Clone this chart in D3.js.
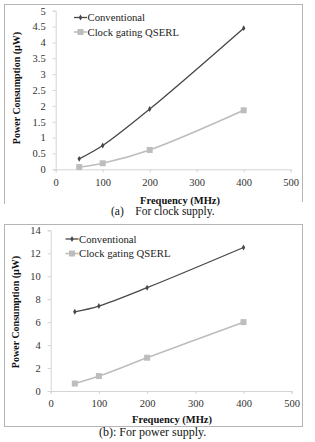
<!DOCTYPE html>
<html><head><meta charset="utf-8">
<script src="https://cdn.jsdelivr.net/npm/d3@7"></script>
<style>
body{margin:0;background:#fff}
svg{display:block}
svg text{font-family:"Liberation Serif","Times New Roman",Times,serif}
</style>
</head><body>
<script>
const freqs = [50, 100, 200, 400];
const clockConventional = [0.33, 0.75, 1.9, 4.45];
const clockQSERL = [0.07, 0.19, 0.61, 1.86];
const powerConventional = [6.9, 7.4, 9.0, 12.5];
const powerQSERL = [0.65, 1.3, 2.9, 6.0];
const xTicks = [0, 100, 200, 300, 400, 500];
const clockYTicks = [0, 0.5, 1, 1.5, 2, 2.5, 3, 3.5, 4, 4.5, 5];
const powerYTicks = [0, 2, 4, 6, 8, 10, 12, 14];
const seriesNames = ["Conventional", "Clock gating QSERL"];
const captions = ["(a)\u00a0\u00a0\u00a0\u00a0For clock supply.", "(b): For power supply."];

const W = 315, H = 442;
const svg = d3.select("body").append("svg").attr("width", W).attr("height", H);
const darkC = "#474747", lightC = "#bdbdbd";

function panel(cfg) {
  const g = svg.append("g");
  g.append("rect").attr("x", cfg.frame[0] + 0.5).attr("y", cfg.frame[1] + 0.5)
    .attr("width", cfg.frame[2]).attr("height", cfg.frame[3])
    .attr("fill", "none").attr("stroke", "#b5b5b5").attr("stroke-width", 1);
  if (cfg.hideFrameBottom) {
    g.append("rect").attr("x", cfg.frame[0] + 1).attr("y", cfg.frame[1] + cfg.frame[3] - 1)
      .attr("width", cfg.frame[2]).attr("height", 3).attr("fill", "#fff");
  }
  const x = d3.scaleLinear().domain([0, 500]).range([cfg.x0, cfg.x1]);
  const y = d3.scaleLinear().domain([0, cfg.ymax]).range([cfg.y0, cfg.y1]);

  const xAxis = g.append("g").attr("transform", `translate(0,${cfg.y0})`)
    .call(d3.axisBottom(x).tickValues(xTicks).tickSize(3).tickPadding(6).tickFormat(d3.format("d")));
  const yAxis = g.append("g").attr("transform", `translate(${cfg.x0},0)`)
    .call(d3.axisLeft(y).tickValues(cfg.yTicks).tickSize(3).tickPadding(7).tickFormat(d => String(d)));
  [xAxis, yAxis].forEach(a => {
    a.attr("font-family", null);
    a.select(".domain").attr("stroke", "#d4d4d4");
    a.selectAll(".tick line").attr("stroke", "#d4d4d4");
    a.selectAll("text").attr("font-size", 10.5).attr("fill", "#333");
  });

  const line = d3.line().x((d, i) => x(freqs[i])).y(d => y(d)).curve(d3.curveCatmullRom.alpha(0.5));
  g.append("path").datum(cfg.light).attr("d", line).attr("fill", "none").attr("stroke", lightC).attr("stroke-width", 1.6);
  g.append("path").datum(cfg.dark).attr("d", line).attr("fill", "none").attr("stroke", darkC).attr("stroke-width", 1.3);
  g.selectAll(".sq").data(cfg.light).enter().append("rect")
    .attr("x", (d, i) => x(freqs[i]) - 3).attr("y", d => y(d) - 3)
    .attr("width", 6).attr("height", 6).attr("fill", lightC);
  const diamond = d3.symbol().type(d3.symbolDiamond).size(10);
  g.selectAll(".dm").data(cfg.dark).enter().append("path")
    .attr("transform", (d, i) => `translate(${x(freqs[i])},${y(d)})`)
    .attr("d", diamond).attr("fill", darkC);

  seriesNames.forEach((name, k) => {
    const ly = cfg.legY + k * 14.5;
    const col = k === 0 ? darkC : lightC;
    g.append("line").attr("x1", cfg.legX).attr("x2", cfg.legX + 13).attr("y1", ly).attr("y2", ly)
      .attr("stroke", col).attr("stroke-width", k === 0 ? 1.3 : 1.6);
    if (k === 0) g.append("path").attr("transform", `translate(${cfg.legX + 6.5},${ly})`).attr("d", diamond).attr("fill", col);
    else g.append("rect").attr("x", cfg.legX + 3.5).attr("y", ly - 3).attr("width", 6).attr("height", 6).attr("fill", col);
    g.append("text").attr("x", cfg.legX + 13.5).attr("y", ly).attr("dy", "0.35em")
      .attr("font-size", 10.7).attr("fill", "#222").text(name);
  });

  g.append("text").attr("x", cfg.xtX).attr("y", cfg.xtY).attr("text-anchor", "middle")
    .attr("font-size", 10.5).attr("font-weight", "bold").attr("fill", "#111")
    .text("Frequency (MHz)");
  g.append("text").attr("transform", `translate(${cfg.ytX},${cfg.ytY}) rotate(-90)`).attr("text-anchor", "middle")
    .attr("font-size", 10).attr("font-weight", "bold").attr("fill", "#111")
    .text("Power Consumption (\u00b5W)");
  g.append("text").attr("x", cfg.capX).attr("y", cfg.capY)
    .attr("font-size", cfg.capSize).attr("fill", "#111").text(cfg.caption);
}

panel({
  frame: [4, 4, 298, 199], hideFrameBottom: true,
  x0: 55.7, x1: 290.7, y0: 169.3, y1: 10.7, ymax: 5, yTicks: clockYTicks,
  dark: clockConventional, light: clockQSERL,
  legX: 74, legY: 17.5,
  xtX: 180, xtY: 204, ytX: 19.5, ytY: 88,
  capX: 111, capY: 215, capSize: 11.5, caption: captions[0]
});
panel({
  frame: [4, 224, 298, 202],
  x0: 50.7, x1: 291.7, y0: 391, y1: 230.3, ymax: 14, yTicks: powerYTicks,
  dark: powerConventional, light: powerQSERL,
  legX: 65.5, legY: 239,
  xtX: 172, xtY: 422.5, ytX: 18.5, ytY: 312,
  capX: 99, capY: 435.5, capSize: 12, caption: captions[1]
});
</script>
</body></html>
